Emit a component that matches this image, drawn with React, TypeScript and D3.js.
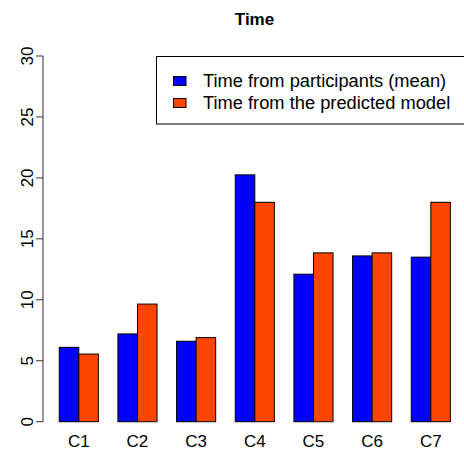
import React from 'react';
import * as d3 from 'd3';

const [W, H] = [464, 450];

const categories = ['C1', 'C2', 'C3', 'C4', 'C5', 'C6', 'C7'];
const participants = [6.1, 7.2, 6.6, 20.25, 12.1, 13.6, 13.5];
const predicted = [5.55, 9.65, 6.9, 18.0, 13.85, 13.85, 18.0];
const seriesNames = ['Time from participants (mean)', 'Time from the predicted model'];
const colors = ['#0000ff', '#ff4500'];
const yTicks = [0, 5, 10, 15, 20, 25, 30];

const font = '"Liberation Sans", Arial, sans-serif';

function App() {
    // R barplot units: each bar is 1 wide, 1 unit gap between groups
    const x = d3.scaleLinear().domain([0.2, 21.8]).range([43.6, 466]);
    const y = d3.scaleLinear().domain([0, 30]).range([421.7, 56]);
    const series = [participants, predicted];

    return (
        <div style={{position: 'absolute', left: 0, top: 0}}>
            <svg width={W} height={H} style={{display: 'block', background: '#fff'}} fontFamily={font}>
                <text x={254.5} y={25} textAnchor="middle" fontWeight="bold" fontSize={17}>Time</text>

                {/* y axis */}
                <line x1={43} x2={43} y1={y(0)} y2={y(30)} stroke="#333" />
                {yTicks.map(t => (
                    <g key={t}>
                        <line x1={36} x2={43} y1={y(t)} y2={y(t)} stroke="#333" />
                        <text transform={`translate(33,${y(t)}) rotate(-90)`} textAnchor="middle" fontSize={17}>{t}</text>
                    </g>
                ))}

                {/* bars */}
                {categories.map((c, i) => (
                    <g key={c}>
                        {series.map((s, j) => {
                            const l = 1 + 3 * i + j;
                            return (
                                <rect key={j} x={x(l)} y={y(s[i])} width={x(l + 1) - x(l)} height={y(0) - y(s[i])}
                                      fill={colors[j]} stroke="#000" strokeWidth={1} />
                            );
                        })}
                        <text x={x(2 + 3 * i)} y={447} textAnchor="middle" fontSize={17}>{c}</text>
                    </g>
                ))}

                {/* legend */}
                <rect x={156.5} y={56.5} width={320} height={67.5} fill="#fff" stroke="#000" />
                {seriesNames.map((n, j) => (
                    <g key={n}>
                        <rect x={173.5} y={76.5 + j * 22} width={12.5} height={9} fill={colors[j]} stroke="#000" />
                        <text x={203} y={87 + j * 22} fontSize={18.3}>{n}</text>
                    </g>
                ))}
            </svg>
        </div>
    );
}

export default App;
